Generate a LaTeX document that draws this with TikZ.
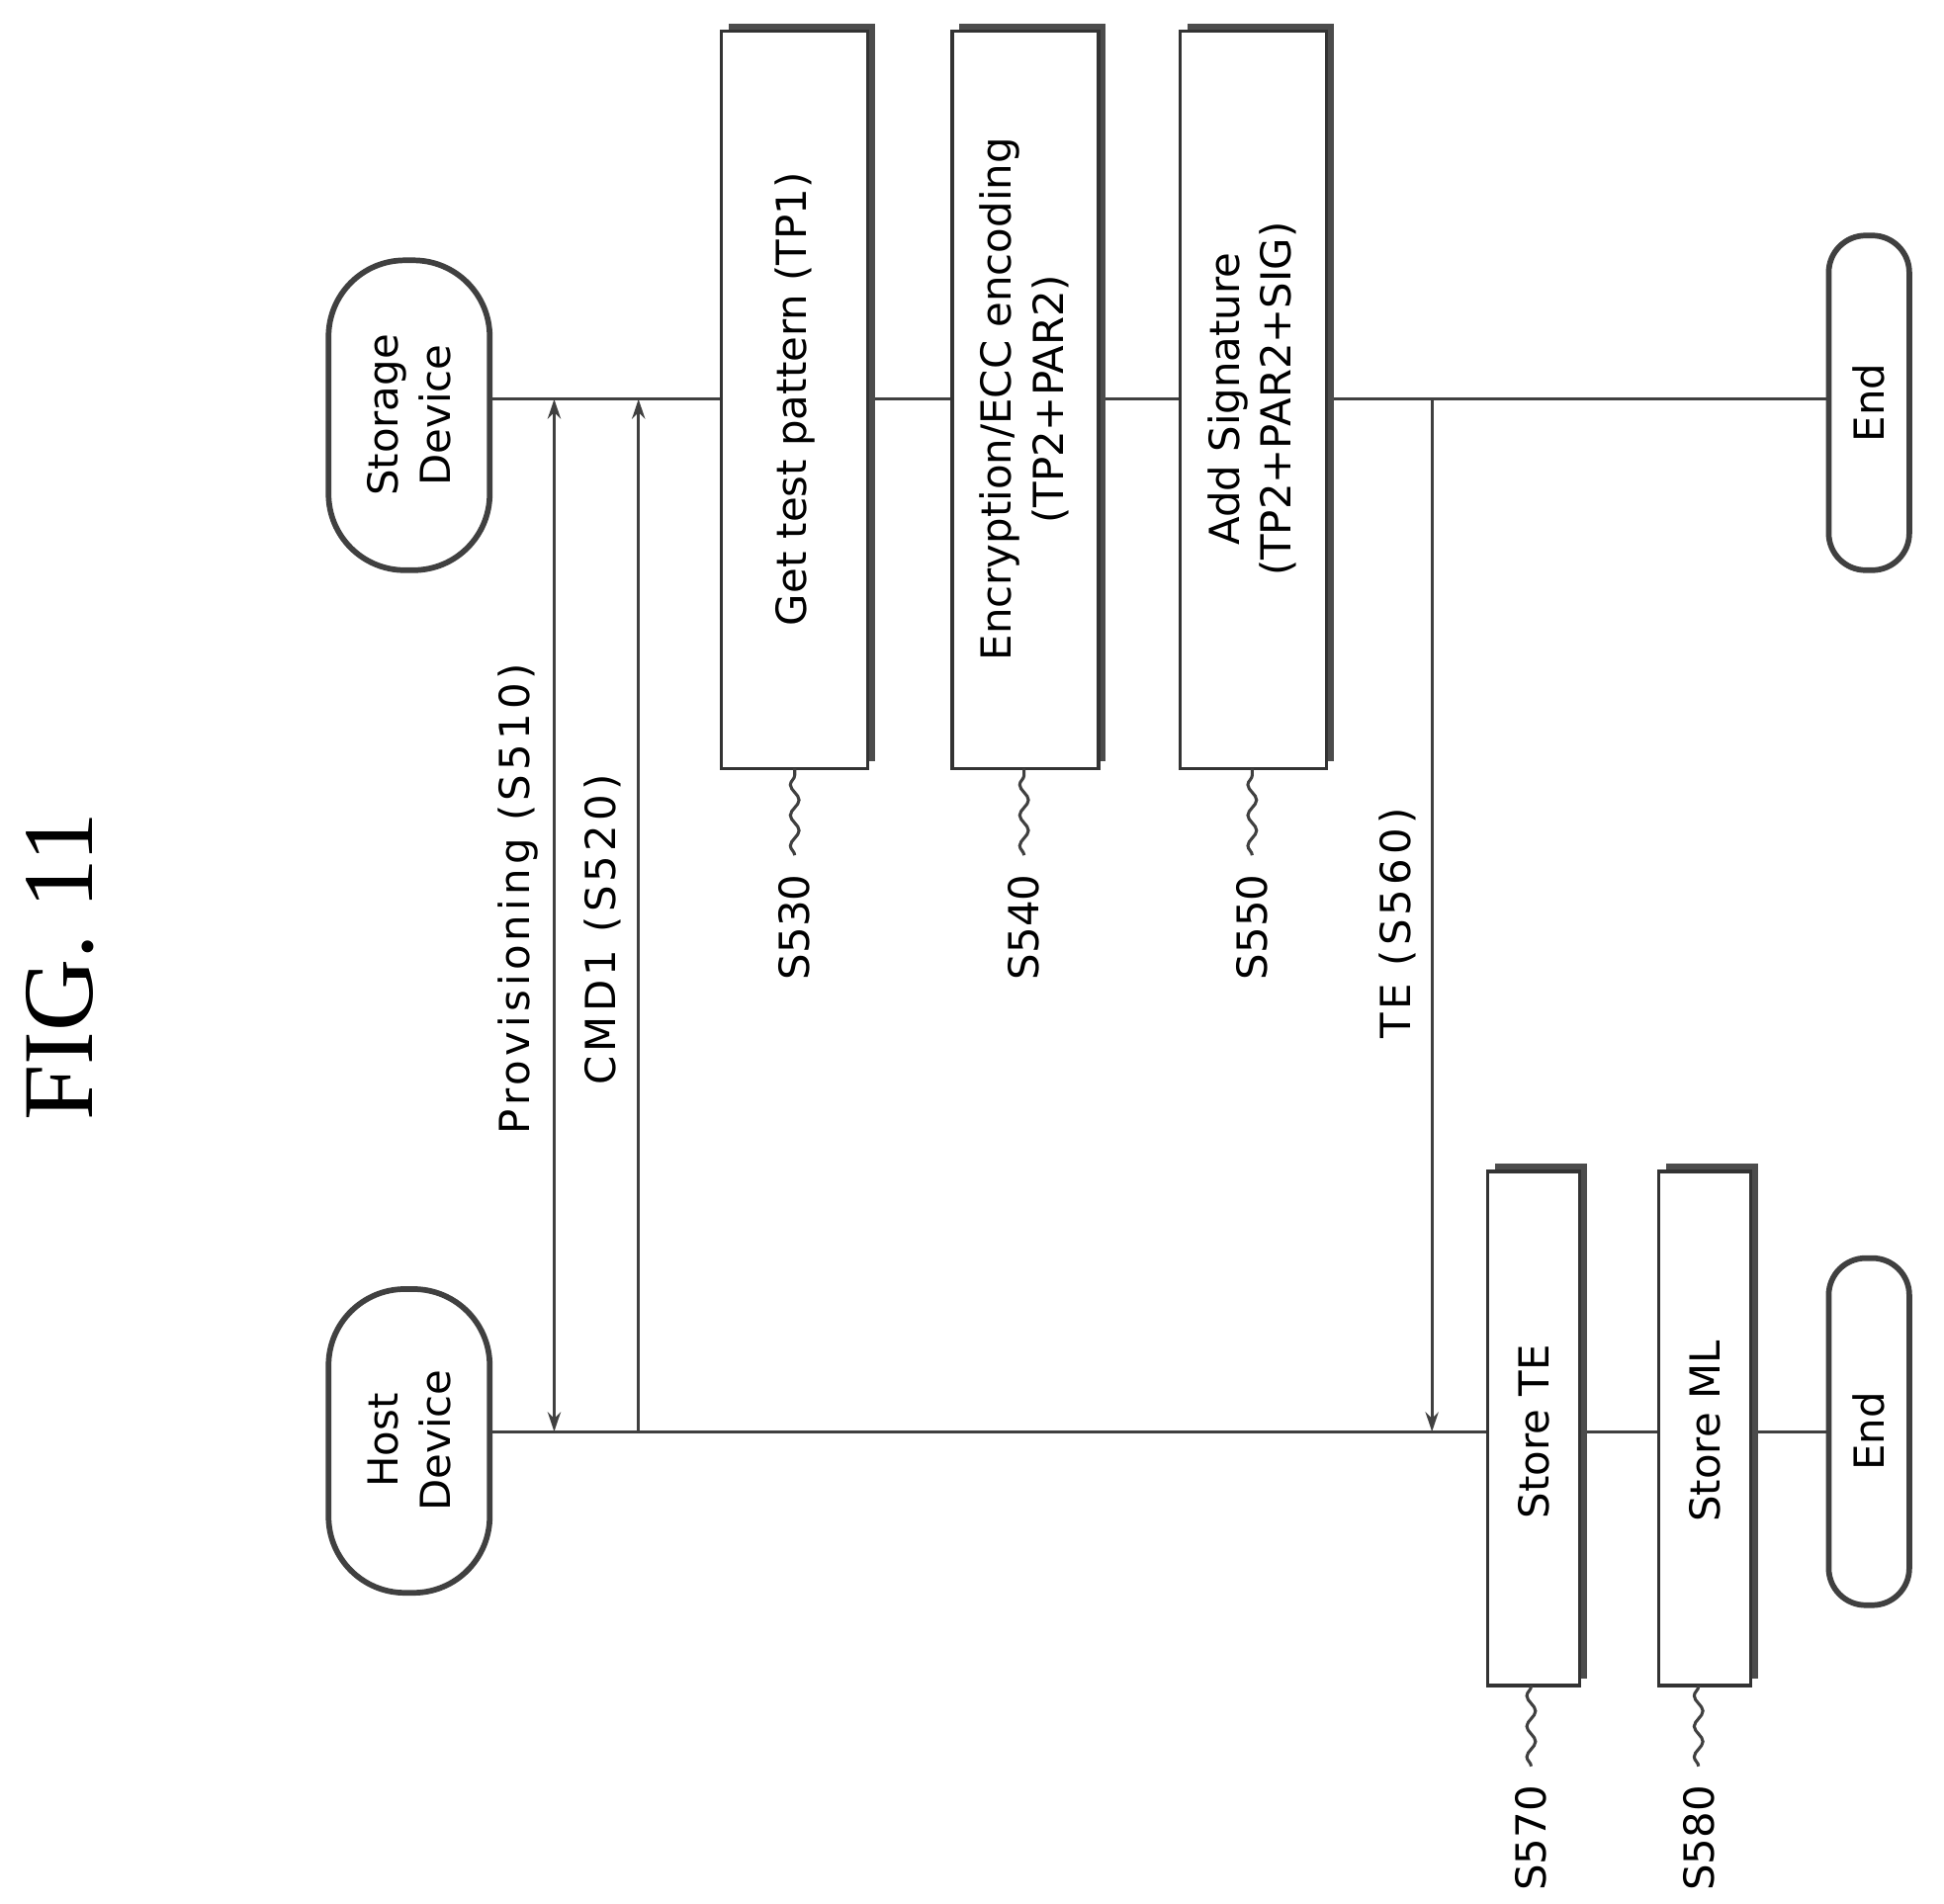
\documentclass[tikz,border=0pt]{standalone}
\usepackage{fontspec}
\setmainfont{DejaVu Sans}
\newfontfamily\titlefont{Liberation Serif}
\begin{document}
\begin{tikzpicture}[x=0.02cm,y=-0.02cm,
  ln/.style={line width=1.4pt,draw=black!75},
  pill/.style={draw=black!75,line width=2.6pt,rounded corners=35pt,inner sep=0},
  box/.style={draw=black!80,line width=1.6pt,fill=white},
  txt/.style={rotate=90,font=\fontsize{19}{24}\selectfont,align=center,inner sep=0},
  sp/.style={font=\fontsize{19}{24}\selectfont\addfontfeature{LetterSpace=10}},
  arr/.style={ln,-{Stealth[length=9pt,width=6pt]}},
  sq/.style={ln,decorate,decoration={snake,amplitude=2pt,segment length=14pt}}]
\usetikzlibrary{arrows.meta,decorations.pathmorphing}
\useasboundingbox (0,0) rectangle (1568,1536);
\node[rotate=90,font=\titlefont\fontsize{46}{50}\selectfont] (title) at (48,780) {FIG. 11};
% pills
\draw[pill] (265,1040) rectangle (395,1285);
\node[txt] (host) at (330,1162) {Host\\Device};
\draw[pill] (265,210) rectangle (395,460);
\node[txt] (stor) at (330,335) {Storage\\Device};
\draw[pill,rounded corners=17pt] (1475,1015) rectangle (1540,1295);
\node[txt] (end1) at (1507,1155) {End};
\draw[pill,rounded corners=17pt] (1475,190) rectangle (1540,460);
\node[txt] (end2) at (1507,325) {End};
% lifelines
\coordinate (h0) at (395,1155); \coordinate (h1) at (1475,1155);
\coordinate (s0) at (395,322); \coordinate (s1) at (1475,322);
\draw[ln] (h0) -- (h1);
\draw[ln] (s0) -- (s1);
% boxes storage
\foreach \a/\n in {582/b1,768/b2,952/b3}{
  \fill[black!70] (\a+6,19) rectangle (\a+124,614);
  \draw[box] (\a,25) rectangle (\a+118,620);
}
\node[txt] (t1) at (641,322) {Get test pattern (TP1)};
\node[txt] (t2) at (826,322) {Encryption/ECC encoding\\(TP2+PAR2)};
\node[txt] (t3) at (1010,322) {Add Signature\\(TP2+PAR2+SIG)};
% host boxes
\foreach \a in {1200,1338}{
  \fill[black!70] (\a+6,939) rectangle (\a+80,1354);
  \draw[box] (\a,945) rectangle (\a+74,1360);
}
\node[txt] (t4) at (1237,1155) {Store TE};
\node[txt] (t5) at (1375,1155) {Store ML};
% messages
\coordinate (p0) at (447,1155); \coordinate (p1) at (447,322);
\draw[ln,{Stealth[length=9pt,width=6pt]}-{Stealth[length=9pt,width=6pt]}] (p0) -- (p1);
\node[txt,sp] (l1) at (418,725) {Provisioning (S510)};
\coordinate (c0) at (515,1155); \coordinate (c1) at (515,322);
\draw[arr] (c0) -- (c1);
\node[txt,sp] (l2) at (486,750) {CMD1 (S520)};
\coordinate (e0) at (1155,322); \coordinate (e1) at (1155,1155);
\draw[arr] (e0) -- (e1);
\node[txt,sp] (l3) at (1127,745) {TE (S560)};
% step labels
\foreach \x/\l/\y/\t in {641/S530/690/620,826/S540/690/620,1010/S550/690/620,1235/S570/1425/1360,1370/S580/1425/1360}{
  \node[txt] (n\l) at (\x,\y+58) {\l};
  \draw[sq] (\x,\y) -- (\x,\t);
}
\end{tikzpicture}
\end{document}
